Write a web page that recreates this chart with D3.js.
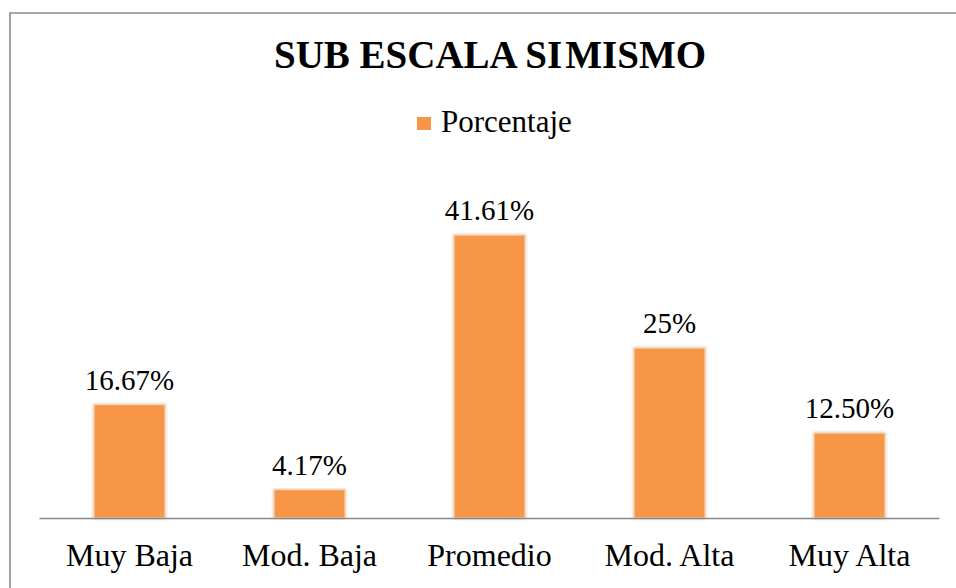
<!DOCTYPE html>
<html><head><meta charset="utf-8"><script src="https://cdn.jsdelivr.net/npm/d3@7"></script></head>
<body style="margin:0;background:#fff">
<svg id="chart" width="956" height="588" style="display:block"></svg>
<script>
const categories = ["Muy Baja", "Mod. Baja", "Promedio", "Mod. Alta", "Muy Alta"];
const values = [16.67, 4.17, 41.61, 25, 12.50];
const valueLabels = ["16.67%", "4.17%", "41.61%", "25%", "12.50%"];
const seriesName = "Porcentaje";
const titleParts = ["SUB ESCALA SI", "MISMO"];

const FONT = "Liberation Serif";
const svg = d3.select("#chart");
const W = 956, H = 588;
const color = "#F79646";

// frame
svg.append("path")
  .attr("d", `M10,${H+5} L10,13 L${W+5},13`)
  .attr("fill", "none").attr("stroke", "#8c8c8c").attr("stroke-width", 1.6);

const defs = svg.append("defs");
const f = defs.append("filter").attr("id","sh").attr("x","-20%").attr("y","-5%").attr("width","140%").attr("height","110%");
f.append("feDropShadow").attr("dx",0).attr("dy",0).attr("stdDeviation",1.5).attr("flood-color","#000").attr("flood-opacity",0.25);

const x = d3.scaleBand().domain(categories).range([39.5, 939.5]).paddingInner(0.605).paddingOuter(0.3025);
const y = d3.scaleLinear().domain([0, 45]).range([518, 212]);

// bars
svg.append("g").selectAll("rect").data(values).join("rect")
  .attr("x", (d,i) => x(categories[i]))
  .attr("y", d => y(d))
  .attr("width", x.bandwidth())
  .attr("height", d => y(0) - y(d))
  .attr("fill", color)
  .attr("stroke", "#fbd3b3")
  .attr("stroke-width", 1.2)
  .attr("filter", "url(#sh)");

// baseline axis
const xAxis = d3.axisBottom(x).tickSize(0).tickPadding(0);
const ax = svg.append("g").attr("transform", `translate(0,${y(0)})`).call(xAxis);
ax.attr("font-family", FONT).attr("font-size", 32);
ax.select(".domain").attr("stroke", "#888").attr("stroke-width", 1.6).attr("d", "M39.5,0.5H939.5");
ax.selectAll(".tick text")
  .attr("y", 48).attr("dy", 0)
  .attr("font-family", FONT)
  .style("font-family", FONT)
  .style("font-size", "32px").attr("fill", "#000");

// value labels
svg.append("g").selectAll("text").data(values).join("text")
  .attr("x", (d,i) => x(categories[i]) + x.bandwidth()/2)
  .attr("y", d => y(d) - 15)
  .attr("text-anchor", "middle")
  .attr("font-family", FONT)
  .style("font-family", FONT)
  .style("font-size", "29px")
  .text((d,i) => valueLabels[i]);

// title
const t = svg.append("text").attr("x", 490).attr("y", 68).attr("text-anchor","middle")
  .attr("font-family", FONT)
  .style("font-family", FONT)
  .style("font-size","39px").style("font-weight","bold");
t.append("tspan").text(titleParts[0]);
t.append("tspan").attr("dx", 3).text(titleParts[1]);

// legend
const lg = svg.append("g");
lg.append("rect").attr("x", 417).attr("y", 117).attr("width", 14).attr("height", 13).attr("fill", color);
lg.append("text").attr("x", 441).attr("y", 132)
  .attr("font-family", FONT)
  .style("font-family", FONT).style("font-size","31px").text(seriesName);
</script>
</body></html>
